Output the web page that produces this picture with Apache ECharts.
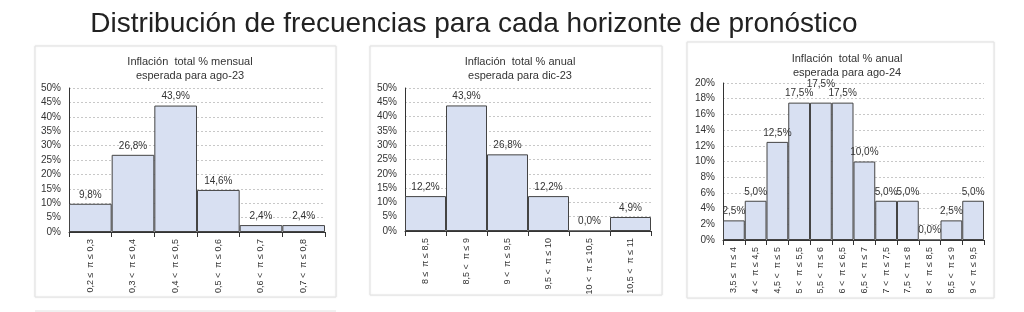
<!DOCTYPE html>
<html>
<head>
<meta charset="utf-8">
<script src="https://cdn.jsdelivr.net/npm/echarts@6/dist/echarts.min.js"></script>
<style>
html,body{margin:0;padding:0;background:#fff;}
#c{width:1024px;height:312px;}
</style>
</head>
<body>
<div id="c"></div>
<script>
const mainTitle = 'Distribución de frecuencias para cada horizonte de pronóstico';
const titles = [
  'Inflación  total % mensual\nesperada para ago-23',
  'Inflación  total % anual\nesperada para dic-23',
  'Inflación  total % anual\nesperada para ago-24'
];
const cats1 = ['0,2 ≤  π ≤ 0,3','0,3 <  π ≤ 0,4','0,4 <  π ≤ 0,5','0,5 <  π ≤ 0,6','0,6 <  π ≤ 0,7','0,7 <  π ≤ 0,8'];
const vals1 = [9.8, 26.8, 43.9, 14.6, 2.4, 2.4];
const cats2 = ['8 ≤  π ≤ 8,5','8,5 <  π ≤ 9','9 <  π ≤ 9,5','9,5 <  π ≤ 10','10 <  π ≤ 10,5','10,5 <  π ≤ 11'];
const vals2 = [12.2, 43.9, 26.8, 12.2, 0.0, 4.9];
const cats3 = ['3,5 ≤  π ≤ 4','4 <  π ≤ 4,5','4,5 <  π ≤ 5','5 <  π ≤ 5,5','5,5 <  π ≤ 6','6 <  π ≤ 6,5','6,5 <  π ≤ 7','7 <  π ≤ 7,5','7,5 <  π ≤ 8','8 <  π ≤ 8,5','8,5 <  π ≤ 9','9 <  π ≤ 9,5'];
const vals3 = [2.5, 5.0, 12.5, 17.5, 17.5, 17.5, 10.0, 5.0, 5.0, 0.0, 2.5, 5.0];
const yTicks1 = {min: 0, max: 50, interval: 5};
const yTicks2 = {min: 0, max: 50, interval: 5};
const yTicks3 = {min: 0, max: 20, interval: 2};

const FONT = 'Liberation Sans, Arial, sans-serif';
const chart = echarts.init(document.getElementById('c'));

const grids = [
  {left: 69, top: 88, width: 256, height: 144},
  {left: 405, top: 88, width: 246, height: 143},
  {left: 723, top: 83, width: 261, height: 157}
];
const cats = [cats1, cats2, cats3];
const vals = [vals1, vals2, vals3];
const yt = [yTicks1, yTicks2, yTicks3];
const titlePos = [{left: 185, top: 50}, {left: 515, top: 50}, {left: 842, top: 47}];
const boxes = [
  {x: 35, y: 46, w: 301, h: 251},
  {x: 370, y: 46, w: 292, h: 249},
  {x: 687, y: 42, w: 307, h: 256}
];

const fmt = v => v.toFixed(1).replace('.', ',') + '%';

const option = {
  animation: false,
  backgroundColor: '#fff',
  textStyle: {fontFamily: FONT},
  title: [
    {text: mainTitle, left: 469, top: 5, textAlign: 'center',
     textStyle: {fontFamily: FONT, fontSize: 28, fontWeight: 'normal', color: '#222'}}
  ].concat(titles.map((t, i) => ({
    text: t, left: titlePos[i].left, top: titlePos[i].top, textAlign: 'center',
    textStyle: {fontFamily: FONT, fontSize: 11, fontWeight: 'normal', color: '#333', lineHeight: 14}
  }))),
  grid: grids,
  xAxis: cats.map((c, i) => ({
    type: 'category', gridIndex: i, data: c,
    axisLine: {show: true, lineStyle: {color: '#333', width: 1}},
    axisTick: {show: true, length: 5, lineStyle: {color: '#333'}},
    axisLabel: {rotate: 90, interval: 0, fontSize: 9, color: '#333', margin: 7, fontFamily: FONT},
    splitLine: {show: false}
  })),
  yAxis: yt.map((y, i) => ({
    type: 'value', gridIndex: i, min: y.min, max: y.max, interval: y.interval,
    axisLine: {show: true, lineStyle: {color: '#333', width: 1}},
    axisTick: {show: false},
    axisLabel: {formatter: '{value}%', fontSize: 10, color: '#333', margin: 8, fontFamily: FONT},
    splitLine: {show: true, lineStyle: {color: '#c8c8c8', type: [2, 2], width: 1}}
  })),
  series: vals.map((v, i) => ({
    type: 'bar', xAxisIndex: i, yAxisIndex: i,
    barCategoryGap: 0,
    data: v.map((d, j) => {
      const item = {value: d};
      if (i === 2 && j === 4) item.label = {offset: [0, -9]};
      return item;
    }),
    itemStyle: {color: '#d8e0f2', borderColor: '#444', borderWidth: 1},
    label: {show: true, position: 'top', distance: 4, fontSize: 10, color: '#333', fontFamily: FONT,
            formatter: p => fmt(p.value)}
  })),
  graphic: boxes.map(b => ({
    type: 'rect', z: -10, silent: true,
    shape: {x: b.x, y: b.y, width: b.w, height: b.h},
    style: {fill: '#fff', stroke: '#e2e2e2', lineWidth: 1, shadowBlur: 2, shadowColor: 'rgba(0,0,0,0.08)'}
  })).concat([{
    type: 'line', silent: true,
    shape: {x1: 35, y1: 311, x2: 336, y2: 311},
    style: {stroke: '#e2e2e2', lineWidth: 1}
  }])
};
chart.setOption(option);
</script>
</body>
</html>
